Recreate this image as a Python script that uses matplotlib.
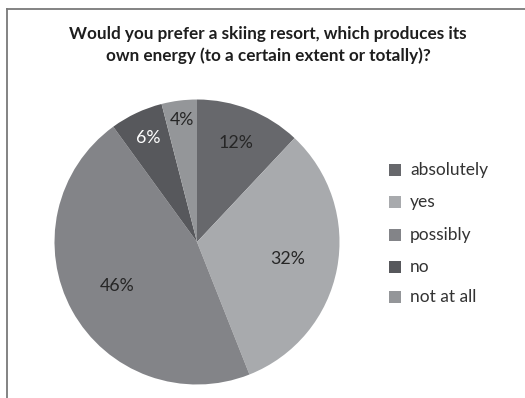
import matplotlib.pyplot as plt
import numpy as np
from matplotlib.patches import Rectangle
from matplotlib.lines import Line2D

plt.rcParams['font.family'] = ['Lato', 'DejaVu Sans']

title = "Would you prefer a skiing resort, which produces its\nown energy (to a certain extent or totally)?"
answers = ['absolutely', 'yes', 'possibly', 'no', 'not at all']
shares = [12, 32, 46, 6, 4]
colors = ['#67686c', '#a8aaad', '#838488', '#57585c', '#949699']
label_colors = ['#262626', '#262626', '#262626', '#ffffff', '#262626']
label_radius = [0.75, 0.65, 0.64, 0.81, 0.86]

W, H = 525, 398
fig = plt.figure(figsize=(W / 100, H / 100), dpi=100)

# frame lines on the left and top
fig.add_artist(Line2D([7 / W, 7 / W], [0, 1 - 9 / H], color='#7a7a7a', lw=1.3,
                      transform=fig.transFigure))
fig.add_artist(Line2D([7 / W, 1], [1 - 9 / H, 1 - 9 / H], color='#7a7a7a', lw=1.3,
                      transform=fig.transFigure))

fig.text(268 / W, 1 - 45 / H, title, ha='center', va='center', fontsize=12.3,
         fontweight='bold', color='#1e1e1e', linespacing=1.45)

# pie centred at (197, 242) px with radius 142.5 px
cx, cy, r = 197, 242, 142.5
ax = fig.add_axes([(cx - r) / W, (H - cy - r) / H, 2 * r / W, 2 * r / H])
wedges, _ = ax.pie(shares, colors=colors, startangle=90, counterclock=False,
                   radius=1.0, wedgeprops=dict(linewidth=0))
ax.set_xlim(-1, 1)
ax.set_ylim(-1, 1)
ax.set_aspect('equal')
ax.axis('off')

for w, val, rad, tc in zip(wedges, shares, label_radius, label_colors):
    mid = np.deg2rad((w.theta1 + w.theta2) / 2)
    ax.text(rad * np.cos(mid), rad * np.sin(mid), f'{val}%', ha='center',
            va='center', fontsize=12.8, color=tc)

# legend
leg_y = [170, 202, 235, 267, 297]
for name, col, y in zip(answers, colors, leg_y):
    fig.add_artist(Rectangle((389 / W, 1 - (y + 6) / H), 12 / W, 12 / H,
                             facecolor=col, edgecolor='none',
                             transform=fig.transFigure))
    fig.text(410 / W, 1 - y / H, name, ha='left', va='center', fontsize=12.5,
             color='#333333')

fig.savefig('out.png', dpi=100)
